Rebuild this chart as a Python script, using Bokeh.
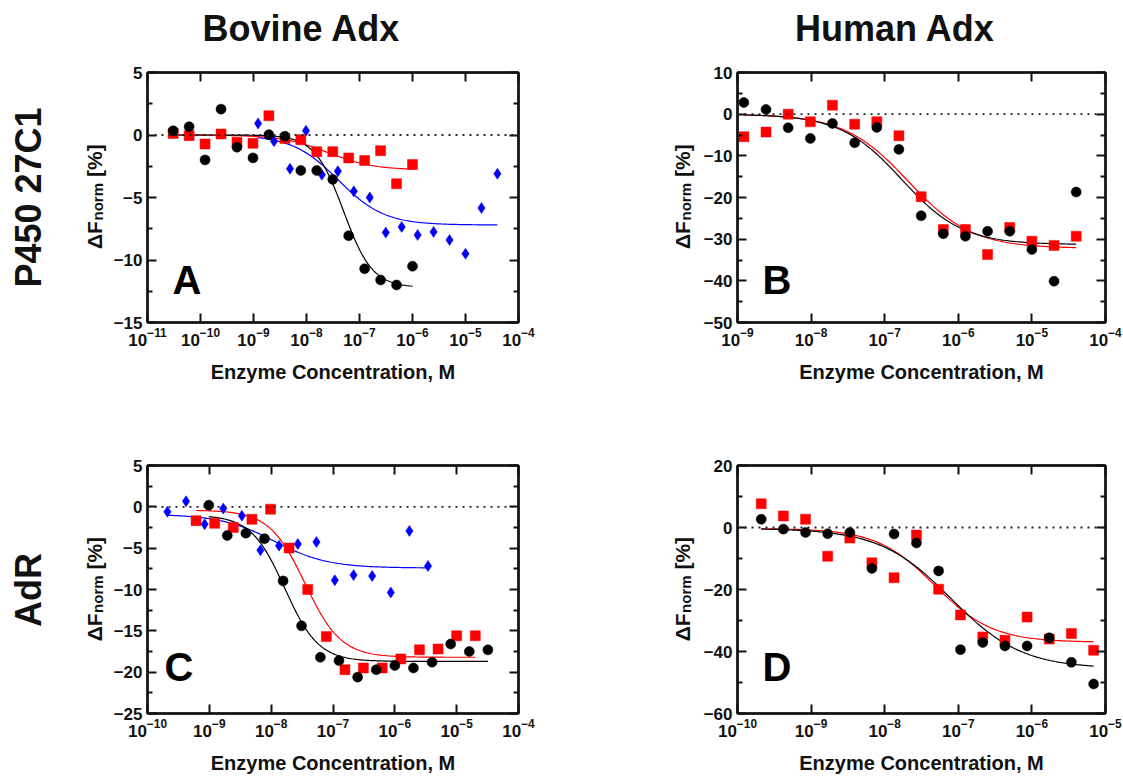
import numpy as np
from bokeh.plotting import figure
from bokeh.models import (Range1d, FixedTicker, LinearAxis, LogAxis, Span, Label,
                          CustomJSTickFormatter)
from bokeh.core.properties import value
from bokeh.layouts import column, row
from bokeh.embed import file_html
from bokeh.resources import INLINE

FONT = "Liberation Sans"

# ---------------- data: enzyme concentration (M) and dF_norm (%) ----------------
# Panel A: P450 27C1 / bovine Adx
a_conc = [3.05e-11, 6.1e-11, 1.22e-10, 2.44e-10, 4.88e-10, 9.77e-10, 1.95e-9, 3.91e-9,
          7.81e-9, 1.56e-8, 3.13e-8, 6.25e-8, 1.25e-7, 2.5e-7, 5e-7, 1e-6]
a_black = [0.34, 0.66, -1.99, 2.07, -0.98, -1.83, 0.03, -0.10, -2.84, -2.84, -3.55,
           -8.06, -10.7, -11.6, -12.0, -10.5]
a_red = [0.13, -0.05, -0.72, 0.08, -0.58, -0.66, 1.54, -0.27, -0.37, -1.33, -1.33,
         -1.83, -2.04, -1.25, -3.90, -2.36]
a_blue_conc = [1.22e-9, 2.44e-9, 4.88e-9, 9.77e-9, 1.95e-8, 3.91e-8, 7.81e-8, 1.56e-7,
               3.13e-7, 6.25e-7, 1.25e-6, 2.5e-6, 5e-6, 1e-5, 2e-5, 4e-5]
a_blue = [0.93, -0.50, -2.70, 0.34, -3.18, -2.89, -4.50, -5.00, -7.80, -7.35, -8.00,
          -7.75, -8.40, -9.50, -5.84, -3.10]

# Panel B: P450 27C1 / human Adx
b_conc = [1.22e-9, 2.44e-9, 4.88e-9, 9.77e-9, 1.95e-8, 3.91e-8, 7.81e-8, 1.56e-7,
          3.13e-7, 6.25e-7, 1.25e-6, 2.5e-6, 5e-6, 1e-5, 2e-5, 4e-5]
b_black = [2.79, 1.12, -3.27, -5.82, -2.23, -6.85, -3.19, -8.45, -24.4, -28.7, -29.3,
           -28.1, -28.1, -32.5, -40.1, -18.7]
b_red = [-5.42, -4.30, 0.00, -1.83, 2.15, -2.39, -1.83, -5.18, -19.8, -27.7, -27.7,
         -33.7, -27.2, -30.5, -31.5, -29.3]

# Panel C: AdR / bovine Adx
c_black_conc = [9.8e-10, 1.95e-9, 3.9e-9, 7.8e-9, 1.56e-8, 3.1e-8, 6.25e-8, 1.25e-7,
                2.5e-7, 5e-7, 1e-6, 2e-6, 4e-6, 8e-6, 1.6e-5, 3.2e-5]
c_black = [0.20, -3.47, -3.19, -3.86, -8.96, -14.4, -18.2, -18.6, -20.6, -19.7, -19.2,
           -19.5, -18.8, -16.6, -17.5, -17.3]
c_red_conc = [6.1e-10, 1.22e-9, 2.44e-9, 4.88e-9, 9.77e-9, 1.95e-8, 3.9e-8, 7.8e-8,
              1.56e-7, 3.1e-7, 6.25e-7, 1.25e-6, 2.5e-6, 5e-6, 1e-5, 2e-5]
c_red = [-1.67, -1.99, -2.51, -1.51, -0.28, -4.98, -10.0, -15.7, -19.7, -19.5, -19.5,
         -18.4, -17.3, -17.2, -15.6, -15.6]
c_blue_conc = [2.1e-10, 4.2e-10, 8.4e-10, 1.68e-9, 3.36e-9, 6.7e-9, 1.34e-8, 2.7e-8,
               5.4e-8, 1.07e-7, 2.15e-7, 4.3e-7, 8.6e-7, 1.72e-6, 3.44e-6]
c_blue = [-0.60, 0.68, -2.11, -0.20, -1.08, -5.26, -4.70, -4.50, -4.26, -8.88, -8.25,
          -8.37, -10.36, -2.91, -7.17]

# Panel D: AdR / human Adx
d_conc = [2.1e-10, 4.2e-10, 8.4e-10, 1.68e-9, 3.36e-9, 6.7e-9, 1.34e-8, 2.7e-8,
          5.4e-8, 1.07e-7, 2.15e-7, 4.3e-7, 8.6e-7, 1.72e-6, 3.44e-6, 6.9e-6]
d_black = [2.66, -0.53, -1.60, -2.00, -1.60, -13.2, -2.10, -5.00, -14.0, -39.4, -37.1,
           -38.2, -38.2, -35.6, -43.5, -50.5]
d_red = [7.66, 3.72, 2.66, -9.26, -3.40, -11.4, -16.2, -2.45, -19.9, -28.2, -35.3,
         -36.4, -28.9, -36.0, -34.2, -39.6]

# Hill fit parameters: (top, bottom, log10 EC50, Hill slope)
fit_a_black = (0.0, -12.2, -7.30, 1.6)
fit_a_red = (0.0, -2.8, -7.60, 1.0)
fit_a_blue = (0.0, -7.2, -7.40, 1.0)
fit_b_black = (0.0, -31.3, -6.77, 1.05)
fit_b_red = (0.0, -32.2, -6.68, 1.0)
fit_c_black = (-1.0, -18.7, -7.78, 1.6)
fit_c_red = (-0.4, -18.2, -7.45, 1.5)
fit_c_blue = (-0.9, -7.4, -7.95, 1.0)
fit_d_black = (-0.3, -45.5, -7.10, 0.9)
fit_d_red = (-0.3, -37.0, -7.32, 1.1)

col_titles = ["Bovine Adx", "Human Adx"]
row_titles = ["P450 27C1", "AdR"]

BLACK, RED, BLUE = "#000000", "#ff0000", "#0000ff"
INK = "#111111"

# page geometry (pixels): row 1 frames span y 72..322, row 2 frames y 465..714
TOP_H, ROW1_H, ROW2_H = 50, 345, 381
R1_TOP, R1_BOT = 22, 73
R2_TOP, R2_BOT = 70, 62


def hill_curve(conc, params):
    top, bottom, logec50, n = params
    xs = np.logspace(np.log10(min(conc)), np.log10(max(conc)), 200)
    r = (xs / 10 ** logec50) ** n
    return xs, top + (bottom - top) * r / (1 + r)


def text_strip(x0, x1, y0, h, btop, bbot):
    """Blank figure whose data units are page pixels (y grows downward)."""
    s = figure(width=x1 - x0, height=h,
               x_range=Range1d(x0, x1),
               y_range=Range1d(y0 + h - bbot, y0 + btop),
               x_axis_location=None, y_axis_location=None,
               output_backend="svg", toolbar_location=None,
               min_border_left=0, min_border_right=0,
               min_border_top=btop, min_border_bottom=bbot,
               outline_line_color=None, background_fill_color="white",
               border_fill_color="white")
    s.grid.visible = False
    return s


def put_text(s, x, y, txt, size, angle=0.0, align="left"):
    s.text(x=[x], y=[y], text=[txt], angle=angle, text_font=value(FONT),
           text_font_style="bold", text_font_size=size, text_color=INK,
           text_align=align, text_baseline="middle")


def y_title(s, xc, yc):
    # dF with a "norm" subscript, read bottom to top, centred on the frame
    put_text(s, xc, yc + 51.5, "\u0394F", "21px", np.pi / 2)
    put_text(s, xc + 3.5, yc + 23, "norm", "15px", np.pi / 2)
    put_text(s, xc, yc - 20.5, "[%]", "21px", np.pi / 2)


def make_panel(xr, yr, ymajor, yminor, w, h, borders):
    left, right, top, bottom = borders
    p = figure(width=w, height=h, x_axis_type="log",
               x_range=Range1d(*xr), y_range=Range1d(*yr),
               output_backend="svg", toolbar_location=None,
               min_border_left=left, min_border_right=right,
               min_border_top=top, min_border_bottom=bottom,
               background_fill_color="white", border_fill_color="white")
    p.xgrid.visible = False
    p.ygrid.visible = False
    p.outline_line_color = INK
    p.outline_line_width = 2

    decades = [10.0 ** k for k in range(int(round(np.log10(xr[0]))),
                                        int(round(np.log10(xr[1]))) + 1)]
    xt = FixedTicker(ticks=decades, minor_ticks=[])
    yt = FixedTicker(ticks=ymajor, minor_ticks=yminor)

    extra_top = LogAxis(ticker=xt, formatter=CustomJSTickFormatter(code="return ''"))
    extra_right = LinearAxis(ticker=yt, formatter=CustomJSTickFormatter(code="return ''"))
    p.add_layout(extra_top, "above")
    p.add_layout(extra_right, "right")

    p.xaxis[0].ticker = xt
    p.yaxis[0].ticker = yt

    for ax in p.xaxis + p.yaxis:
        ax.axis_line_color = INK
        ax.axis_line_width = 2.5
        ax.major_tick_in = 9
        ax.major_tick_out = 0
        ax.minor_tick_in = 5
        ax.minor_tick_out = 0
        ax.major_tick_line_width = 2
        ax.minor_tick_line_width = 2
        ax.major_tick_line_color = INK
        ax.minor_tick_line_color = INK
        ax.major_label_text_font = FONT
        ax.major_label_text_font_style = "bold"
        ax.major_label_text_font_size = "17px"
        ax.major_label_text_color = INK
    for ax in p.xaxis:
        ax.minor_tick_line_color = None
    for ax in (extra_top, extra_right):
        ax.major_label_standoff = 0
        ax.major_label_text_font_size = "0px"

    bx = p.below[0]
    bx.major_label_standoff = 5
    bx.axis_label = "Enzyme Concentration, M"
    bx.axis_label_text_font = FONT
    bx.axis_label_text_font_style = "bold"
    bx.axis_label_text_font_size = "20px"
    bx.axis_label_text_color = INK
    bx.axis_label_standoff = 12
    p.left[0].major_label_standoff = 5

    p.add_layout(Span(location=0, dimension="width", line_color="#222222",
                      line_width=1.8, line_dash="2 5"))
    return p


def add_series(p, conc, vals, params, color, marker, size):
    xs, ys = hill_curve(conc, params)
    p.line(xs, ys, line_color=color, line_width=1.2)
    return dict(x=conc, y=vals, marker=marker, size=size, color=color)


def draw_markers(p, specs):
    for s in specs:
        p.scatter(s["x"], s["y"], marker=s["marker"], size=s["size"],
                  fill_color=s["color"], line_color=s["color"], line_width=0.5)


def panel_letter(p, xr, yr, letter, dx, dy):
    p.add_layout(Label(x=xr[0], y=yr[0], x_offset=dx, y_offset=dy, text=letter,
                       text_align="left", text_baseline="middle",
                       text_font=FONT, text_font_style="bold",
                       text_font_size="40px", text_color="#000000"))


# ---------------- column headings ----------------
top = text_strip(0, 1123, 0, TOP_H, 0, 0)
put_text(top, 301, 28, col_titles[0], "36px", align="center")
put_text(top, 894.5, 28, col_titles[1], "36px", align="center")

# ---------------- Panel A ----------------
xa, ya = (1e-11, 1e-4), (-15, 5)
pA = make_panel(xa, ya, [-15, -10, -5, 0, 5], [-12.5, -7.5, -2.5, 2.5],
                450, ROW1_H, (34, 42, R1_TOP, R1_BOT))
sA = [add_series(pA, a_blue_conc, a_blue, fit_a_blue, BLUE, "diamond", 11),
      add_series(pA, a_conc, a_red, fit_a_red, RED, "square", 10),
      add_series(pA, a_conc, a_black, fit_a_black, BLACK, "circle", 10)]
draw_markers(pA, sA)
panel_letter(pA, xa, ya, "A", 25, 42.7)

stripA = text_strip(0, 110, TOP_H, ROW1_H, R1_TOP, R1_BOT)
put_text(stripA, 28, 197, row_titles[0], "36px", np.pi / 2, "center")
y_title(stripA, 93.5, 197)

# ---------------- Panel B ----------------
xb, yb = (1e-9, 1e-4), (-50, 10)
pB = make_panel(xb, yb, [-50, -40, -30, -20, -10, 0, 10], [-45, -35, -25, -15, -5, 5],
                423, ROW1_H, (32, 18, R1_TOP, R1_BOT))
sB = [add_series(pB, b_conc, b_red, fit_b_red, RED, "square", 10),
      add_series(pB, b_conc, b_black, fit_b_black, BLACK, "circle", 10)]
draw_markers(pB, sB)
panel_letter(pB, xb, yb, "B", 25, 42.7)

stripB = text_strip(560, 700, TOP_H, ROW1_H, R1_TOP, R1_BOT)
y_title(stripB, 681.5, 197)

# ---------------- Panel C ----------------
xc, yc = (1e-10, 1e-4), (-25, 5)
pC = make_panel(xc, yc, [-25, -20, -15, -10, -5, 0, 5],
                [-22.5, -17.5, -12.5, -7.5, -2.5, 2.5],
                450, ROW2_H, (34, 42, R2_TOP, R2_BOT))
sC = [add_series(pC, c_blue_conc, c_blue, fit_c_blue, BLUE, "diamond", 11),
      add_series(pC, c_red_conc, c_red, fit_c_red, RED, "square", 10),
      add_series(pC, c_black_conc, c_black, fit_c_black, BLACK, "circle", 10)]
draw_markers(pC, sC)
panel_letter(pC, xc, yc, "C", 17, 46.5)

y2 = TOP_H + ROW1_H
stripC = text_strip(0, 110, y2, ROW2_H, R2_TOP, R2_BOT)
put_text(stripC, 28, 590, row_titles[1], "36px", np.pi / 2, "center")
y_title(stripC, 93.5, 590)

# ---------------- Panel D ----------------
xd, yd = (1e-10, 1e-5), (-60, 20)
pD = make_panel(xd, yd, [-60, -40, -20, 0, 20], [-50, -30, -10, 10],
                423, ROW2_H, (32, 18, R2_TOP, R2_BOT))
sD = [add_series(pD, d_conc, d_red, fit_d_red, RED, "square", 10),
      add_series(pD, d_conc, d_black, fit_d_black, BLACK, "circle", 10)]
draw_markers(pD, sD)
panel_letter(pD, xd, yd, "D", 25, 46.5)

stripD = text_strip(560, 700, y2, ROW2_H, R2_TOP, R2_BOT)
y_title(stripD, 681.5, 590)

layout = column(top,
                row(stripA, pA, stripB, pB),
                row(stripC, pC, stripD, pD))
open("out.html", "w").write(file_html(layout, INLINE))
